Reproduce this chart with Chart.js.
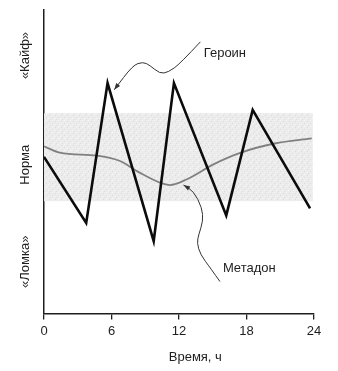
<!DOCTYPE html>
<html>
<head>
<meta charset="utf-8">
<script src="https://cdn.jsdelivr.net/npm/chart.js@4/dist/chart.umd.min.js"></script>
<style>
  html, body { margin: 0; padding: 0; background: #fff; }
  #wrap { width: 338px; height: 371px; position: relative; }
</style>
</head>
<body>
<div id="wrap"><canvas id="chart"></canvas></div>
<script>
// hours after dose and the resulting state (0 = withdrawal, 100 = high)
const heroinHours = [0, 3.75, 5.65, 9.75, 11.55, 16.2, 18.55, 23.65];
const heroinLevel = [51.6, 29.8, 75.9, 23.8, 75.9, 32.3, 67.1, 34.6];

const methadoneHours = [0, 1.4, 4.7, 6.7, 8.5, 10.3, 11.2, 12.7, 15.1, 17.5, 20.5, 23.8];
const methadoneLevel = [55.1, 53, 52, 50.3, 46.4, 43.1, 42.3, 44.2, 49.2, 53, 56, 57.7];

// the "normal" band
const normRange = [37, 66];
const normHours = [0, 23.9];

// state names along the vertical axis
const levelNames = ['«Кайф»', 'Норма', '«Ломка»'];
const levelValues = [85, 49, 17];

const xTicks = [0, 6, 12, 18, 24];
const xTitle = 'Время, ч';

// callout labels and their curved pointers (in hours / level units)
const heroinNote = { text: 'Героин', at: [14.2, 85.7],
  path: [[13.9, 89.5], [12.1, 82.3], [11.05, 79.5], [10.3, 79.0], [9.4, 81.8], [8.8, 82.9], [7.9, 81.8], [6.24, 73.7]] };
const methadoneNote = { text: 'Метадон', at: [15.9, 14.8],
  path: [[15.64, 10.5], [14.8, 14.9], [13.9, 19.4], [13.6, 23.2], [13.75, 26.0], [14.14, 30.4], [14.05, 34.8], [13.3, 40.3], [12.4, 42.3]] };

const FONT = 'Liberation Sans, Arial, sans-serif';
const INK = '#1e1e1e';

function toPoints(xs, ys) {
  return xs.map((x, i) => ({ x: x, y: ys[i] }));
}

// light stippled fill for the normal band
function makeBandPattern(ctx) {
  const c = document.createElement('canvas');
  c.width = 6; c.height = 6;
  const p = c.getContext('2d');
  p.fillStyle = '#ececec';
  p.fillRect(0, 0, 6, 6);
  p.fillStyle = '#dcdcdc';
  p.fillRect(1, 1, 1, 1);
  p.fillRect(4, 3, 1, 1);
  p.fillRect(2, 5, 1, 1);
  p.fillStyle = '#f6f6f6';
  p.fillRect(4, 0, 1, 1);
  p.fillRect(0, 4, 1, 1);
  return ctx.createPattern(c, 'repeat');
}

const bandPlugin = {
  id: 'normBand',
  beforeDatasetsDraw(chart) {
    const { ctx, scales: { x, y } } = chart;
    const left = x.getPixelForValue(normHours[0]);
    const right = x.getPixelForValue(normHours[1]);
    const top = y.getPixelForValue(normRange[1]);
    const bottom = y.getPixelForValue(normRange[0]);
    ctx.save();
    ctx.fillStyle = makeBandPattern(ctx);
    ctx.fillRect(left, top, right - left, bottom - top);
    ctx.restore();
  }
};

function drawPointer(ctx, x, y, path) {
  const pts = path.map(p => [x.getPixelForValue(p[0]), y.getPixelForValue(p[1])]);
  ctx.beginPath();
  ctx.moveTo(pts[0][0], pts[0][1]);
  for (let i = 1; i < pts.length - 1; i++) {
    const mx = (pts[i][0] + pts[i + 1][0]) / 2;
    const my = (pts[i][1] + pts[i + 1][1]) / 2;
    ctx.quadraticCurveTo(pts[i][0], pts[i][1], mx, my);
  }
  const last = pts[pts.length - 1];
  ctx.lineTo(last[0], last[1]);
  ctx.stroke();

  // arrow head
  const prev = pts[pts.length - 2];
  const ang = Math.atan2(last[1] - prev[1], last[0] - prev[0]);
  const len = 7, spread = 0.35;
  ctx.beginPath();
  ctx.moveTo(last[0], last[1]);
  ctx.lineTo(last[0] - len * Math.cos(ang - spread), last[1] - len * Math.sin(ang - spread));
  ctx.lineTo(last[0] - len * Math.cos(ang + spread), last[1] - len * Math.sin(ang + spread));
  ctx.closePath();
  ctx.fill();
}

const notesPlugin = {
  id: 'notes',
  afterDraw(chart) {
    const { ctx, scales: { x, y } } = chart;
    ctx.save();
    ctx.strokeStyle = '#333';
    ctx.fillStyle = '#333';
    ctx.lineWidth = 1;
    [heroinNote, methadoneNote].forEach(n => drawPointer(ctx, x, y, n.path));

    ctx.fillStyle = INK;
    ctx.font = '13px ' + FONT;
    ctx.textBaseline = 'middle';
    ctx.textAlign = 'left';
    [heroinNote, methadoneNote].forEach(n => {
      ctx.fillText(n.text, x.getPixelForValue(n.at[0]), y.getPixelForValue(n.at[1]));
    });

    // axis title sits a bit right of centre
    ctx.textAlign = 'center';
    ctx.fillText(xTitle, x.getPixelForValue(13.45), x.bottom + 14);

    // state names, rotated along the vertical axis
    levelNames.forEach((name, i) => {
      ctx.save();
      ctx.translate(25, y.getPixelForValue(levelValues[i]));
      ctx.rotate(-Math.PI / 2);
      ctx.fillText(name, 0, 0);
      ctx.restore();
    });
    ctx.restore();
  }
};

new Chart(document.getElementById('chart').getContext('2d'), {
  type: 'line',
  data: {
    datasets: [
      {
        label: 'Героин',
        data: toPoints(heroinHours, heroinLevel),
        borderColor: '#0c0c0c',
        borderWidth: 2.6,
        tension: 0,
        pointRadius: 0
      },
      {
        label: 'Метадон',
        data: toPoints(methadoneHours, methadoneLevel),
        borderColor: '#808080',
        borderWidth: 1.8,
        cubicInterpolationMode: 'monotone',
        pointRadius: 0
      }
    ]
  },
  options: {
    responsive: true,
    maintainAspectRatio: false,
    animation: false,
    layout: { padding: { left: 44, right: 24, top: 10, bottom: 28 } },
    plugins: {
      legend: { display: false },
      tooltip: { enabled: false }
    },
    scales: {
      x: {
        type: 'linear',
        min: 0,
        max: 24,
        afterBuildTicks: axis => { axis.ticks = xTicks.map(v => ({ value: v })); },
        ticks: { color: INK, font: { family: FONT, size: 13 }, padding: 4, maxRotation: 0 },
        grid: { drawOnChartArea: false, drawTicks: true, tickLength: 6, color: INK, lineWidth: 1.3 },
        border: { color: INK, width: 1.5 },
        title: { display: false }
      },
      y: {
        min: 0,
        max: 100,
        ticks: { display: false },
        grid: { display: false, drawTicks: false },
        border: { color: INK, width: 1.5 }
      }
    }
  },
  plugins: [bandPlugin, notesPlugin]
});
</script>
</body>
</html>
